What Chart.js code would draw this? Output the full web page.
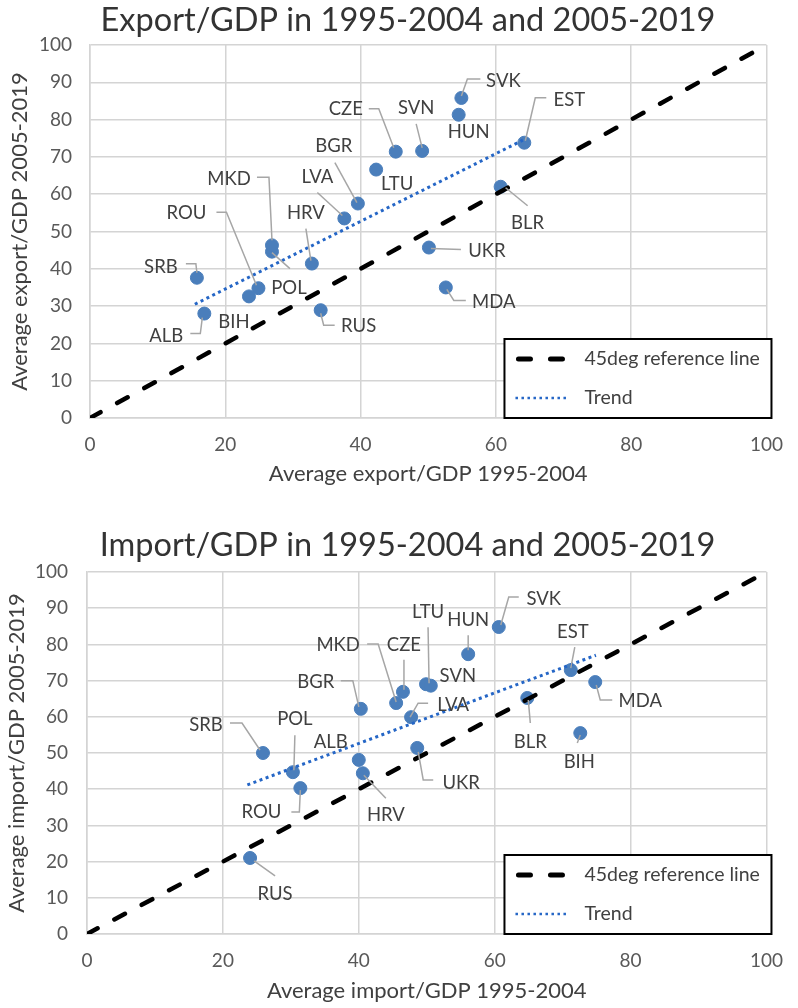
<!DOCTYPE html>
<html>
<head>
<meta charset="utf-8">
<title>Export/GDP and Import/GDP</title>
<script src="https://cdn.jsdelivr.net/npm/chart.js@4.4.1/dist/chart.umd.min.js"></script>
<style>
  html, body { margin: 0; padding: 0; background: #fff; }
  .chart-box { width: 798px; height: 504px; }
  canvas { display: block; }
</style>
</head>
<body>
<div class="chart-box"><canvas id="exportChart" width="798" height="504"></canvas></div>
<div class="chart-box"><canvas id="importChart" width="798" height="504"></canvas></div>
<script>
// --- data: export/GDP ---
const exportCountries = ['ALB', 'BIH', 'ROU', 'POL', 'MKD', 'SRB', 'HRV', 'RUS', 'LVA', 'BGR',
                         'LTU', 'CZE', 'SVN', 'SVK', 'HUN', 'EST', 'BLR', 'UKR', 'MDA'];
const exportEarly = [16.9, 23.5, 24.9, 26.9, 26.9, 15.8, 32.8, 34.1, 37.6, 39.6,
                     42.3, 45.2, 49.1, 54.9, 54.5, 64.2, 60.7, 50.1, 52.6];
const exportLate  = [28.0, 32.6, 34.8, 44.6, 46.3, 37.6, 41.4, 28.9, 53.5, 57.5,
                     66.6, 71.4, 71.6, 85.8, 81.3, 73.8, 62.0, 45.7, 35.0];
const exportTrendX = [15.5, 64.0];
const exportTrendY = [30.5, 74.5];

// --- data: import/GDP ---
const importCountries = ['SRB', 'POL', 'ROU', 'RUS', 'ALB', 'HRV', 'BGR', 'MKD', 'CZE', 'LVA',
                         'UKR', 'LTU', 'SVN', 'HUN', 'SVK', 'EST', 'MDA', 'BLR', 'BIH'];
const importEarly = [25.9, 30.3, 31.4, 24.0, 40.0, 40.6, 40.3, 45.5, 46.5, 47.7,
                     48.6, 49.9, 50.6, 56.1, 60.6, 71.2, 74.8, 64.8, 72.6];
const importLate  = [50.0, 44.7, 40.3, 21.0, 48.1, 44.4, 62.2, 63.8, 66.9, 59.9,
                     51.4, 69.0, 68.6, 77.3, 84.8, 72.9, 69.6, 65.2, 55.5];
const importTrendX = [23.6, 74.9];
const importTrendY = [41.2, 77.0];

const refLineX = [0, 100];
const refLineY = [0, 100];

// label placement (pixel offsets from the marker) and leader lines
const exportLabelPos = {
    ALB: { dx: -38, dy: 22, leader: [[-14, 20], [-4, 20], [-2, 4]] },
    BIH: { dx: -15, dy: 26 },
    ROU: { dx: -72, dy: -75, leader: [[-42, -76], [-32, -76], [-2, -3]] },
    POL: { dx: 17, dy: 36, leader: [[18, 17], [0, 1]] },
    MKD: { dx: -43, dy: -66, leader: [[-15, -68], [-3, -68], [0, -5]] },
    SRB: { dx: -36, dy: -11, leader: [[-11, -14], [-1, -14], [0, -5]] },
    HRV: { dx: -6, dy: -51, leader: [[-6, -35], [-1, -3]] },
    RUS: { dx: 38, dy: 16, leader: [[0, 3], [3, 15], [14, 15]] },
    LVA: { dx: -27, dy: -41, leader: [[-27, -26], [-2, -3]] },
    BGR: { dx: -24, dy: -57, leader: [[-23, -41], [-1, -1]] },
    LTU: { dx: 21, dy: 14 },
    CZE: { dx: -50, dy: -43, leader: [[-27, -43], [-17, -43], [-2, -4]] },
    SVN: { dx: -6, dy: -43, leader: [[-6, -27], [0, -3]] },
    SVK: { dx: 42, dy: -17, leader: [[0, -2], [6, -19], [19, -19]] },
    HUN: { dx: 10, dy: 17 },
    EST: { dx: 45, dy: -43, leader: [[1, -2], [11, -45], [22, -45]] },
    BLR: { dx: 27, dy: 36, leader: [[5, 1], [27, 19]] },
    UKR: { dx: 58, dy: 3, leader: [[2, 1], [32, 2]] },
    MDA: { dx: 48, dy: 15, leader: [[1, 2], [8, 13], [20, 13]] }
};

const importLabelPos = {
    SRB: { dx: -57, dy: -28, leader: [[-33, -30], [-21, -30], [-3, -3]] },
    POL: { dx: 2, dy: -53, leader: [[2, -37], [1, -2]] },
    ROU: { dx: -39, dy: 24, leader: [[-9, 24], [-1, 24], [0, 2]] },
    RUS: { dx: 25, dy: 36, leader: [[4, 3], [25, 18]] },
    ALB: { dx: -28, dy: -18 },
    HRV: { dx: 23, dy: 42, leader: [[1, 2], [23, 25]] },
    BGR: { dx: -45, dy: -27, leader: [[-20, -28], [-8, -28], [-2, -2]] },
    MKD: { dx: -58, dy: -58, leader: [[-29, -59], [-18, -59], [0, -1]] },
    CZE: { dx: 1, dy: -47, leader: [[1, -32], [1, -2]] },
    LVA: { dx: 42, dy: -12, leader: [[17, -14], [7, -14], [-1, 0]] },
    UKR: { dx: 44, dy: 35, leader: [[1, 4], [6, 32], [16, 32]] },
    LTU: { dx: 2, dy: -72, leader: [[2, -57], [3, -1]] },
    SVN: { dx: 27, dy: -10 },
    HUN: { dx: 0, dy: -34, leader: [[0, -19], [0, -4]] },
    SVK: { dx: 45, dy: -28, leader: [[2, -2], [10, -30], [20, -30]] },
    EST: { dx: 2, dy: -38, leader: [[4, -23], [0, -2]] },
    MDA: { dx: 45, dy: 19, leader: [[1, 3], [5, 18], [17, 18]] },
    BLR: { dx: 3, dy: 44, leader: [[1, 2], [3, 25]] },
    BIH: { dx: -1, dy: 29, leader: [[0, 2], [-3, 10]] }
};

const FONT = 'Lato, "Open Sans", "DejaVu Sans", sans-serif';
const GRID = '#d4d4d4';
const POINT_BLUE = '#4a7ebb';
const TREND_BLUE = '#2566c6';

Chart.defaults.font.family = FONT;

const toPoints = (xs, ys) => xs.map((x, i) => ({ x: x, y: ys[i] }));

// country names next to the markers, with grey leader lines
const countryLabels = {
    id: 'countryLabels',
    afterDatasetsDraw(chart, args, opts) {
        const meta = chart.getDatasetMeta(opts.datasetIndex);
        const ctx = chart.ctx;
        ctx.save();
        meta.data.forEach((pt, i) => {
            const pos = opts.layout[opts.names[i]];
            if (!pos) return;
            if (pos.leader) {
                ctx.strokeStyle = '#a6a6a6';
                ctx.lineWidth = 1.5;
                ctx.beginPath();
                pos.leader.forEach(([lx, ly], k) => {
                    if (k === 0) ctx.moveTo(pt.x + lx, pt.y + ly);
                    else ctx.lineTo(pt.x + lx, pt.y + ly);
                });
                ctx.stroke();
            }
            ctx.fillStyle = '#404040';
            ctx.font = '18.5px ' + FONT;
            ctx.textAlign = 'center';
            ctx.textBaseline = 'middle';
            ctx.fillText(opts.names[i], pt.x + pos.dx, pt.y + pos.dy);
        });
        ctx.restore();
    }
};

// the title sits a little right of the canvas centre in the original
const titleShift = {
    id: 'titleShift',
    afterLayout(chart) {
        if (chart.titleBlock) chart.titleBlock.left += 38;
    }
};

// boxed legend in the lower right corner of the plot
const boxLegend = {
    id: 'boxLegend',
    afterDraw(chart) {
        const { ctx, chartArea } = chart;
        const left = chartArea.right - 262;
        const right = chartArea.right + 5;
        const bottom = chartArea.bottom;
        const top = bottom - 79;
        ctx.save();
        ctx.fillStyle = '#fff';
        ctx.fillRect(left, top, right - left, bottom - top);
        ctx.strokeStyle = '#000';
        ctx.lineWidth = 2;
        ctx.strokeRect(left, top, right - left, bottom - top);

        // dashed sample
        ctx.beginPath();
        ctx.strokeStyle = '#000';
        ctx.lineWidth = 5;
        ctx.lineCap = 'round';
        ctx.setLineDash([12, 20]);
        ctx.moveTo(left + 14, top + 20);
        ctx.lineTo(left + 60, top + 20);
        ctx.stroke();

        // dotted sample
        ctx.beginPath();
        ctx.strokeStyle = TREND_BLUE;
        ctx.lineWidth = 2.5;
        ctx.lineCap = 'butt';
        ctx.setLineDash([2.5, 3.5]);
        ctx.moveTo(left + 11, top + 59);
        ctx.lineTo(left + 62, top + 59);
        ctx.stroke();

        ctx.setLineDash([]);
        ctx.fillStyle = '#404040';
        ctx.font = '19.5px ' + FONT;
        ctx.textAlign = 'left';
        ctx.textBaseline = 'middle';
        ctx.fillText('45deg reference line', left + 80, top + 20);
        ctx.fillText('Trend', left + 80, top + 59);
        ctx.restore();
    }
};

function makeChart(canvasId, cfg) {
    const ctx = document.getElementById(canvasId).getContext('2d');
    return new Chart(ctx, {
        type: 'scatter',
        data: {
            datasets: [
                {
                    label: '45deg reference line',
                    data: toPoints(refLineX, refLineY),
                    showLine: true,
                    borderColor: '#000',
                    borderWidth: 4.5,
                    borderDash: [12, 19],
                    borderCapStyle: 'round',
                    pointRadius: 0
                },
                {
                    label: 'Trend',
                    data: toPoints(cfg.trendX, cfg.trendY),
                    showLine: true,
                    borderColor: TREND_BLUE,
                    borderWidth: 3,
                    borderDash: [3, 3.5],
                    pointRadius: 0
                },
                {
                    label: 'Countries',
                    data: toPoints(cfg.xs, cfg.ys),
                    backgroundColor: POINT_BLUE,
                    borderColor: POINT_BLUE,
                    pointRadius: 6.5,
                    borderWidth: 1
                }
            ]
        },
        options: {
            responsive: false,
            animation: false,
            events: [],
            layout: { padding: { top: 0, right: cfg.padRight, bottom: 0, left: 0 } },
            plugins: {
                legend: { display: false },
                tooltip: { enabled: false },
                title: {
                    display: true,
                    text: cfg.title,
                    color: '#333',
                    font: { size: 32.5, weight: 'normal' },
                    padding: cfg.titlePad
                },
                countryLabels: { datasetIndex: 2, names: cfg.names, layout: cfg.labelPos }
            },
            scales: {
                x: {
                    type: 'linear',
                    min: 0,
                    max: 100,
                    ticks: { stepSize: 20, padding: 15, color: '#595959', font: { size: 19 } },
                    grid: { color: GRID, lineWidth: 1.5, drawTicks: false },
                    border: { color: GRID, width: 1.5 },
                    title: {
                        display: true,
                        text: cfg.xTitle,
                        color: '#404040',
                        font: { size: 22 },
                        padding: { top: 0, bottom: cfg.xTitlePad }
                    },
                    afterFit(scale) { scale.height = cfg.xHeight; }
                },
                y: {
                    type: 'linear',
                    min: 0,
                    max: 100,
                    ticks: { stepSize: 10, padding: cfg.yTickPad, color: '#595959', font: { size: 19 } },
                    grid: { color: GRID, lineWidth: 1.5, drawTicks: false },
                    border: { color: GRID, width: 1.5 },
                    title: {
                        display: true,
                        text: cfg.yTitle,
                        color: '#404040',
                        font: { size: 22 },
                        padding: { top: cfg.yTitlePad, bottom: 0 }
                    },
                    afterFit(scale) { scale.width = cfg.yWidth; }
                }
            }
        },
        plugins: [countryLabels, titleShift, boxLegend]
    });
}

makeChart('exportChart', {
    title: 'Export/GDP in 1995-2004 and 2005-2019',
    xTitle: 'Average export/GDP 1995-2004',
    yTitle: 'Average export/GDP 2005-2019',
    names: exportCountries,
    xs: exportEarly,
    ys: exportLate,
    trendX: exportTrendX,
    trendY: exportTrendY,
    labelPos: exportLabelPos,
    titlePad: { top: 1, bottom: 5 },
    padRight: 20,
    xHeight: 86,
    yWidth: 90,
    xTitlePad: 17,
    yTitlePad: 7,
    yTickPad: 18
});

makeChart('importChart', {
    title: 'Import/GDP in 1995-2004 and 2005-2019',
    xTitle: 'Average import/GDP 1995-2004',
    yTitle: 'Average import/GDP 2005-2019',
    names: importCountries,
    xs: importEarly,
    ys: importLate,
    trendX: importTrendX,
    trendY: importTrendY,
    labelPos: importLabelPos,
    titlePad: { top: 22, bottom: 7 },
    padRight: 21,
    xHeight: 74,
    yWidth: 87,
    xTitlePad: 4,
    yTitlePad: 4,
    yTickPad: 19
});
</script>
</body>
</html>
